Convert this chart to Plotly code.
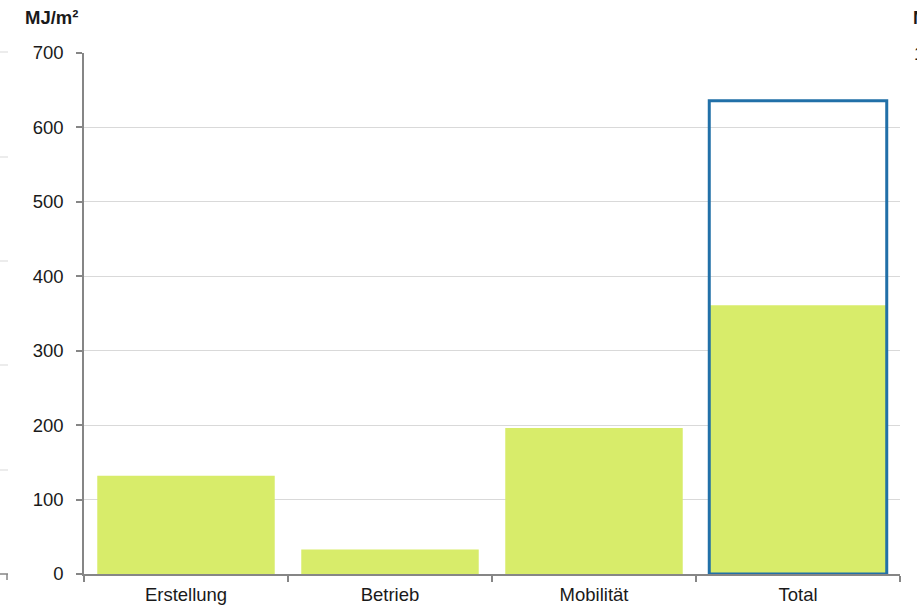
import plotly.graph_objects as go

categories = ["Erstellung", "Betrieb", "Mobilität", "Total"]
values = [132, 33, 196, 361]
total_outline_cat = ["Total"]
total_outline_val = [636]
y_ticks = [0, 100, 200, 300, 400, 500, 600, 700]

W, H = 917, 607
L, R, T, B = 84, 17, 53, 33
pw, ph = W - L - R, H - T - B

def px(x):
    return (x - L) / pw

def py(y):
    return (H - B - y) / ph

fig = go.Figure()
fig.add_trace(go.Bar(
    x=categories, y=values,
    marker=dict(color="#d8ec6a", line=dict(width=0)),
    showlegend=False,
))
fig.add_trace(go.Bar(
    x=total_outline_cat, y=total_outline_val,
    marker=dict(color="rgba(0,0,0,0)", line=dict(color="#2170a8", width=3)),
    showlegend=False,
))

font = "Liberation Sans, Arial, sans-serif"
FS = 18.5
fig.update_layout(
    width=W, height=H,
    margin=dict(l=L, r=R, t=T, b=B, pad=0, autoexpand=False),
    barmode="overlay",
    bargap=0.13,
    plot_bgcolor="white", paper_bgcolor="white",
    font=dict(family=font, size=FS, color="#1a1a1a"),
    xaxis=dict(
        type="category", automargin=False,
        showline=True, linecolor="#868686", linewidth=1.5,
        ticks="outside", ticklen=6, tickcolor="#868686", tickwidth=1.5,
        tickson="boundaries",
        showgrid=False,
        ticklabelstandoff=3,
        tickfont=dict(family=font, size=FS, color="#1a1a1a"),
    ),
    yaxis=dict(
        range=[0, 700], automargin=False,
        tickvals=y_ticks,
        showline=True, linecolor="#868686", linewidth=1.5,
        ticks="outside", ticklen=6, tickcolor="#868686", tickwidth=1.5,
        showgrid=True, gridcolor="#d9d9d9", gridwidth=1,
        zeroline=False,
        ticklabelstandoff=9,
        tickfont=dict(family=font, size=FS, color="#1a1a1a"),
    ),
)

fig.add_annotation(
    text="<b>MJ/m²</b>", xref="paper", yref="paper",
    x=px(80), y=py(18), xanchor="right", yanchor="middle",
    showarrow=False, font=dict(family=font, size=FS, color="#1a1a1a"),
)
# Cut-off neighbouring chart elements at the right edge
fig.add_annotation(
    text="<b>MJ/m²</b>", xref="paper", yref="paper",
    x=px(911), y=py(18), xanchor="left", yanchor="middle",
    showarrow=False, font=dict(family=font, size=FS, color="#1a1a1a"),
)
fig.add_annotation(
    text="1000", xref="paper", yref="paper",
    x=px(912), y=py(53), xanchor="left", yanchor="middle",
    showarrow=False, font=dict(family=font, size=FS, color="#1a1a1a"),
)
# Cut-off neighbouring chart gridlines at the left edge
for yy in [52, 157, 261, 365, 470]:
    fig.add_shape(type="line", xref="paper", yref="paper",
                  x0=px(0), x1=px(8), y0=py(yy), y1=py(yy),
                  line=dict(color="#d9d9d9", width=1))
fig.add_shape(type="line", xref="paper", yref="paper",
              x0=px(0), x1=px(8), y0=py(574), y1=py(574),
              line=dict(color="#868686", width=1.5))
fig.add_shape(type="line", xref="paper", yref="paper",
              x0=px(7), x1=px(7), y0=py(574), y1=py(580),
              line=dict(color="#868686", width=1.5))

fig.write_html("out.html")
